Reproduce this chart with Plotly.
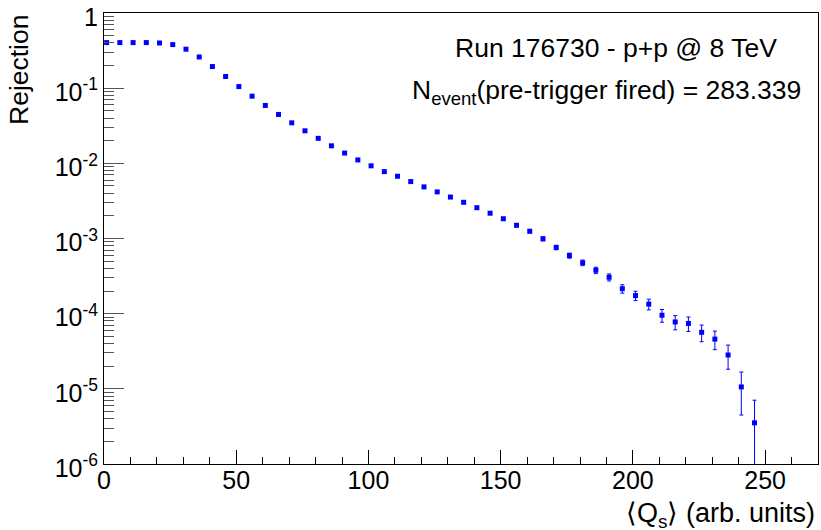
import numpy as np
import plotly.graph_objects as go

# Rejection vs <Q_s> threshold, run 176730 (p+p @ 8 TeV)
n_events = 283339

threshold = [1, 6, 11, 16, 21, 26, 31, 36, 41, 46,
             51, 56, 61, 66, 71, 76, 81, 86, 91, 96,
             101, 106, 111, 116, 121, 126, 131, 136, 141, 146,
             151, 156, 161, 166, 171, 176, 181, 186, 191, 196,
             201, 206, 211, 216, 221, 226, 231, 236, 241, 246]

rejection = [0.404, 0.404, 0.404, 0.404, 0.399, 0.380, 0.330, 0.260, 0.194, 0.143,
             0.105, 0.0782, 0.0589, 0.0447, 0.0346, 0.0271, 0.0215, 0.0171, 0.0137, 0.0111,
             0.00927, 0.00776, 0.00673, 0.00572, 0.00486, 0.00417, 0.00356, 0.00303, 0.00257, 0.00217,
             0.00183, 0.00150, 0.00125, 0.000991, 0.000760, 0.000593, 0.000476, 0.000378, 0.000305, 0.000215,
             0.000174, 0.000134, 9.53e-5, 7.76e-5, 7.41e-5, 5.65e-5, 4.59e-5, 2.82e-5, 1.06e-5, 3.53e-6]

y_tickvals = [1e-6, 1e-5, 1e-4, 1e-3, 1e-2, 1e-1, 1]
y_ticktext = ["10<sup>-6</sup>", "10<sup>-5</sup>", "10<sup>-4</sup>", "10<sup>-3</sup>",
              "10<sup>-2</sup>", "10<sup>-1</sup>", "1"]

rej = np.array(rejection)
stat_err = np.sqrt(rej * n_events) / n_events  # Poisson error on the counts

FONT = "Liberation Sans, Arial, Helvetica, sans-serif"
BLUE = "#0000ff"

fig = go.Figure()
fig.add_trace(go.Scatter(
    x=threshold, y=rejection, mode="markers",
    marker=dict(symbol="square", size=5, color=BLUE, line=dict(width=0)),
    error_y=dict(type="data", array=stat_err, color=BLUE, thickness=1, width=2),
    showlegend=False,
))

minor_y = [k * 10.0 ** e for e in range(-6, 0) for k in range(2, 10)]

fig.update_xaxes(
    range=[0, 270], showgrid=False, zeroline=False, automargin=False,
    showline=True, linecolor="black", linewidth=1, mirror=True,
    ticks="inside", ticklen=14, tickwidth=1, tickcolor="black",
    tick0=0, dtick=50,
    minor=dict(ticks="inside", ticklen=7, tickwidth=1, tickcolor="black", dtick=10, showgrid=False),
    tickfont=dict(family=FONT, size=25, color="black"),
    ticklabelstandoff=-6, ticklabeloverflow="allow",
)
fig.update_yaxes(
    type="log", range=[-6, 0], showgrid=False, zeroline=False, automargin=False,
    showline=True, linecolor="black", linewidth=1, mirror=True,
    ticks="inside", ticklen=20, tickwidth=1, tickcolor="#555",
    tickmode="array", tickvals=y_tickvals, ticktext=y_ticktext,
    minor=dict(ticks="inside", ticklen=10, tickwidth=1, tickcolor="#555",
               tickmode="array", tickvals=minor_y, showgrid=False),
    tickfont=dict(family=FONT, size=25, color="black"),
    ticklabelshift=4, ticklabeloverflow="allow",
)

L, R, T, B = 104, 3, 13, 66
W, H = 821, 530
pw, ph = W - L - R, H - T - B


def px(x):
    return (x - L) / pw


def py(y):
    return (H - B - y) / ph


annotations = [
    dict(text="Run 176730 - p+p @ 8 TeV", x=px(615.5), y=py(48), xanchor="center", yanchor="middle",
         font=dict(family=FONT, size=26.5, color="black")),
    dict(text="N<sub>event</sub>(pre-trigger fired) = 283.339", x=px(606.4), y=py(92),
         xanchor="center", yanchor="middle", font=dict(family=FONT, size=26.5, color="black")),
    dict(text="Rejection", textangle=-90, x=px(19), y=1.0, xanchor="center", yanchor="top",
         font=dict(family=FONT, size=26.5, color="black")),
    dict(text="\u27e8Q<sub>s</sub>\u27e9 (arb. units)", x=px(817), y=py(515), xanchor="right",
         yanchor="middle", font=dict(family=FONT, size=27, color="black")),
]
for a in annotations:
    a.update(xref="paper", yref="paper", showarrow=False)

fig.update_layout(
    width=W, height=H,
    margin=dict(l=L, r=R, t=T, b=B, pad=0, autoexpand=False),
    paper_bgcolor="white", plot_bgcolor="white",
    font=dict(family=FONT, color="black"),
    annotations=annotations,
)

fig.write_html("out.html")
